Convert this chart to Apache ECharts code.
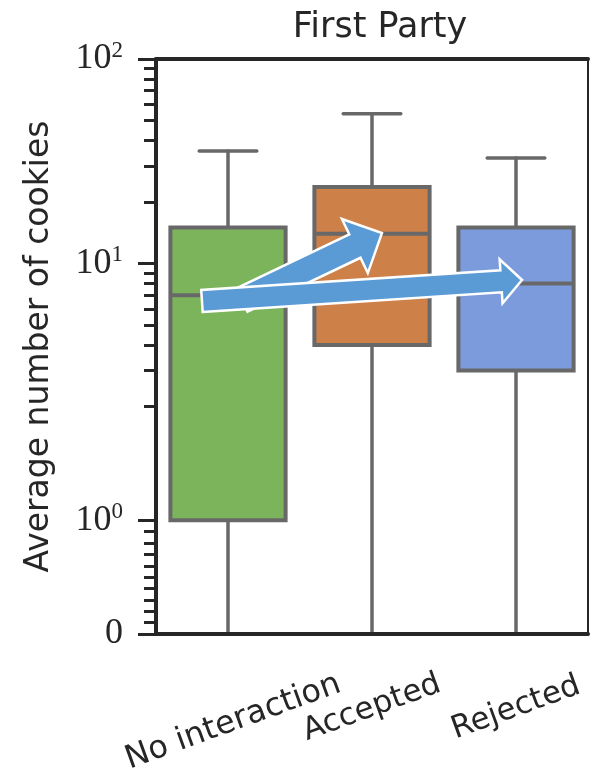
<!DOCTYPE html>
<html>
<head>
<meta charset="utf-8">
<script src="https://cdn.jsdelivr.net/npm/echarts@6/dist/echarts.min.js"></script>
<style>
  html, body { margin: 0; padding: 0; background: #fff; }
  #main { width: 590px; height: 772px; }
</style>
</head>
<body>
<div id="main"></div>
<script>
var categories = ['No interaction', 'Accepted', 'Rejected'];
// [min, q1, median, q3, max]
var boxStats = [
    [0, 1, 7, 15, 35.5],
    [0, 4, 14, 23.7, 54],
    [0, 3, 8, 15, 32.8]
];
var boxColors = ['#7cb45c', '#cd8048', '#7b9bdc'];

// arrows: [x tail, y tail, x tip, y tip] (x in category units)
var arrows = [
    [0.097, 6.64, 1.069, 14.1],
    [-0.181, 6.57, 2.042, 8.32]
];
// shaft half width, head half width, head length
var arrowShapes = [[13, 30, 30], [11, 22, 21]];

var majorTicks = [0, 1, 10, 100];
var majorLabels = ['{b|0}', '{b|10}{s|0}', '{b|10}{s|1}', '{b|10}{s|2}'];
var minorTicks = [0.1, 0.2, 0.3, 0.4, 0.5, 0.6, 0.7, 0.8, 0.9,
    2, 3, 4, 5, 6, 7, 8, 9, 20, 30, 40, 50, 60, 70, 80, 90];

// symlog, linthresh 2, linscale 1
var LT = 2, ADJ = 1 / (1 - 1 / 10);
function symlog(v) {
    if (v <= LT) return v * ADJ;
    return LT * (ADJ + Math.log10(v / LT));
}
var yMax = symlog(100);

var majorT = majorTicks.map(symlog);
var minorT = minorTicks.map(symlog);

var boxData = boxStats.map(function (s, i) {
    return [i].concat(s.map(symlog));
});
var arrowData = arrows.map(function (a) {
    return [a[0], symlog(a[1]), a[2], symlog(a[3])];
});

function renderBox(params, api) {
    var x = api.value(0);
    var lo = api.coord([x, api.value(1)]);
    var q1 = api.coord([x, api.value(2)]);
    var md = api.coord([x, api.value(3)]);
    var q3 = api.coord([x, api.value(4)]);
    var hi = api.coord([x, api.value(5)]);
    var band = api.size([1, 0])[0];
    var hb = band * 0.8 / 2, hc = hb / 2;
    var edge = '#686868';
    var ls = { stroke: edge, lineWidth: 3.5, lineCap: 'round' };
    return {
        type: 'group',
        children: [
            { type: 'line', shape: { x1: lo[0], y1: lo[1], x2: q1[0], y2: q1[1] }, style: ls },
            { type: 'line', shape: { x1: hi[0], y1: hi[1], x2: q3[0], y2: q3[1] }, style: ls },
            { type: 'line', shape: { x1: hi[0] - hc, y1: hi[1], x2: hi[0] + hc, y2: hi[1] }, style: ls },
            { type: 'line', shape: { x1: lo[0] - hc, y1: lo[1], x2: lo[0] + hc, y2: lo[1] }, style: ls },
            {
                type: 'rect',
                shape: { x: q3[0] - hb, y: q3[1], width: hb * 2, height: q1[1] - q3[1] },
                style: { fill: boxColors[params.dataIndex], stroke: edge, lineWidth: 4 }
            },
            { type: 'line', shape: { x1: md[0] - hb, y1: md[1], x2: md[0] + hb, y2: md[1] }, style: { stroke: edge, lineWidth: 4 } }
        ]
    };
}

function renderArrow(params, api) {
    var p0 = api.coord([api.value(0), api.value(1)]);
    var p1 = api.coord([api.value(2), api.value(3)]);
    var sh = arrowShapes[params.dataIndex];
    var dx = p1[0] - p0[0], dy = p1[1] - p0[1];
    var len = Math.sqrt(dx * dx + dy * dy);
    var ux = dx / len, uy = dy / len;
    var nx = -uy, ny = ux;
    var bx = p1[0] - ux * sh[2], by = p1[1] - uy * sh[2];
    var pts = [
        [p0[0] + nx * sh[0], p0[1] + ny * sh[0]],
        [bx + nx * sh[0], by + ny * sh[0]],
        [bx + nx * sh[1], by + ny * sh[1]],
        [p1[0], p1[1]],
        [bx - nx * sh[1], by - ny * sh[1]],
        [bx - nx * sh[0], by - ny * sh[0]],
        [p0[0] - nx * sh[0], p0[1] - ny * sh[0]]
    ];
    return {
        type: 'polygon',
        shape: { points: pts },
        style: { fill: '#5b9bd5', stroke: '#ffffff', lineWidth: 2.5, lineJoin: 'miter' }
    };
}

var ink = '#262626';
var sans = 'DejaVu Sans';

var myChart = echarts.init(document.getElementById('main'));

var option = {
    animation: false,
    backgroundColor: '#ffffff',
    title: {
        text: 'First Party',
        left: 375,
        top: 5,
        textAlign: 'center',
        textStyle: { fontFamily: sans, fontSize: 35, fontWeight: 'normal', color: ink }
    },
    grid: {
        left: 156, right: 2, top: 59, bottom: 138,
        containLabel: false,
        outerBoundsMode: 'none',
        show: true, borderColor: ink, borderWidth: 2
    },
    xAxis: [
        {
            type: 'category',
            data: [
                { value: categories[0], textStyle: { align: 'center', verticalAlign: 'middle', fontSize: 32, lineHeight: 30 } },
                { value: categories[1], textStyle: { align: 'center', verticalAlign: 'middle' } },
                { value: categories[2], textStyle: { align: 'center', verticalAlign: 'middle' } }
            ],
            z: 10,
            axisLine: { onZero: false, lineStyle: { color: ink, width: 4 } },
            axisTick: { show: false },
            axisLabel: {
                rotate: 20,
                align: 'center',
                verticalAlign: 'middle',
                margin: 74,
                interval: 0,
                fontFamily: sans,
                fontSize: 31,
                color: ink,
                formatter: function (v) {
                    // the longest label sits lower, like a top-anchored rotated label
                    return v === categories[0] ? '\n' + v : v;
                }
            }
        },
        {
            type: 'category',
            position: 'top',
            data: categories,
            z: 10,
            axisLine: { onZero: false, lineStyle: { color: ink, width: 4 } },
            axisTick: { show: false },
            axisLabel: { show: false }
        },
        {
            type: 'value',
            min: -0.5,
            max: 2.5,
            show: false
        }
    ],
    yAxis: [
        {
            type: 'value',
            position: 'left',
            min: 0,
            max: yMax,
            z: 10,
            name: 'Average number of cookies',
            nameLocation: 'middle',
            nameGap: 100,
            nameTextStyle: { fontFamily: sans, fontSize: 33, color: ink },
            axisLine: { show: true, onZero: false, lineStyle: { color: ink, width: 4 } },
            splitLine: { show: false },
            axisTick: {
                show: true,
                customValues: majorT,
                length: 18,
                lineStyle: { color: ink, width: 3 }
            },
            axisLabel: {
                customValues: majorT,
                margin: 33,
                showMinLabel: true,
                showMaxLabel: true,
                formatter: function (v) {
                    var best = 0;
                    for (var i = 1; i < majorT.length; i++) {
                        if (Math.abs(majorT[i] - v) < Math.abs(majorT[best] - v)) best = i;
                    }
                    return majorLabels[best];
                },
                rich: {
                    b: { fontFamily: 'Liberation Serif', fontSize: 36, lineHeight: 40, color: ink },
                    s: { fontFamily: 'Liberation Serif', fontSize: 23, verticalAlign: 'top', color: ink }
                }
            }
        },
        {
            type: 'value',
            position: 'left',
            offset: 0,
            min: 0,
            max: yMax,
            z: 10,
            axisLine: { show: false, onZero: false },
            splitLine: { show: false },
            axisTick: {
                show: true,
                customValues: minorT,
                length: 12,
                lineStyle: { color: ink, width: 3 }
            },
            axisLabel: { show: false }
        }
    ],
    series: [
        {
            type: 'custom',
            name: 'boxes',
            xAxisIndex: 2,
            yAxisIndex: 0,
            z: 2,
            renderItem: renderBox,
            data: boxData
        },
        {
            type: 'custom',
            name: 'arrows',
            xAxisIndex: 2,
            yAxisIndex: 0,
            z: 5,
            renderItem: renderArrow,
            data: arrowData
        }
    ]
};

myChart.setOption(option);
</script>
</body>
</html>
